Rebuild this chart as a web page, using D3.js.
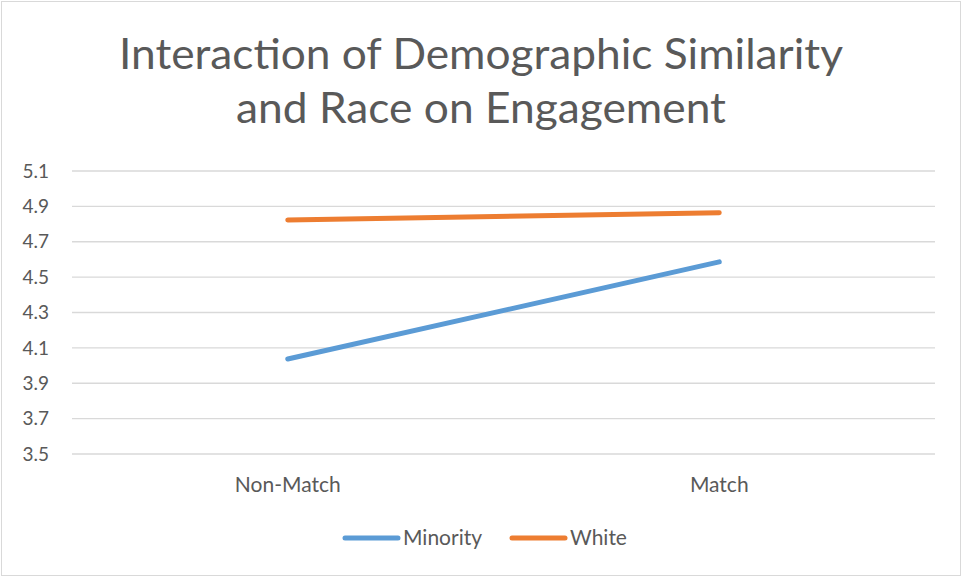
<!DOCTYPE html>
<html><head><meta charset="utf-8">
<script src="https://cdn.jsdelivr.net/npm/d3@7"></script>
<style>body{margin:0;background:#fff}svg{display:block}text{font-family:Lato,"Open Sans",sans-serif;fill:#595959}</style>
</head><body>
<script>
const categories = ["Non-Match", "Match"];
const seriesNames = ["Minority", "White"];
const minority = [4.037, 4.586];
const white = [4.823, 4.864];
const yTicks = [3.5, 3.7, 3.9, 4.1, 4.3, 4.5, 4.7, 4.9, 5.1];
const colors = ["#5B9BD5", "#ED7D31"];
const titleLines = ["Interaction of Demographic Similarity", "and Race on Engagement"];
const titleWidths = [724, 490];

const W = 962, H = 577;
const svg = d3.select("body").append("svg").attr("width", W).attr("height", H);
svg.append("rect").attr("x", 1.5).attr("y", 1.5).attr("width", W - 3).attr("height", H - 3)
  .attr("fill", "#fff").attr("stroke", "#d9d9d9");

const x = d3.scaleBand().domain(categories).range([72, 935]);
const y = d3.scaleLinear().domain([3.5, 5.1]).range([454, 171]);

svg.append("g").selectAll("text").data(titleLines).join("text")
  .attr("x", 481).attr("y", (d, i) => 69 + i * 54).attr("text-anchor", "middle")
  .attr("font-size", 42).attr("textLength", (d, i) => titleWidths[i]).attr("lengthAdjust", "spacingAndGlyphs")
  .text(d => d);

svg.append("g").selectAll("line").data(yTicks).join("line")
  .attr("x1", 72).attr("x2", 935).attr("y1", d => y(d)).attr("y2", d => y(d))
  .attr("stroke", "#d9d9d9").attr("stroke-width", 1.3);

svg.append("g").selectAll("text").data(yTicks).join("text")
  .attr("x", 49).attr("y", d => y(d)).attr("dy", "0.35em").attr("text-anchor", "end")
  .attr("font-size", 19).text(d => d.toFixed(1));

svg.append("g").selectAll("text").data(categories).join("text")
  .attr("x", d => x(d) + x.bandwidth() / 2).attr("y", 492).attr("text-anchor", "middle")
  .attr("font-size", 21).text(d => d);

const line = d3.line().x((d, i) => x(categories[i]) + x.bandwidth() / 2).y(d => y(d));
[minority, white].forEach((s, k) => {
  svg.append("path").attr("d", line(s)).attr("fill", "none").attr("stroke", colors[k])
    .attr("stroke-width", 5).attr("stroke-linecap", "round");
});

const legend = svg.append("g");
const lx = [345, 512];
seriesNames.forEach((n, k) => {
  legend.append("line").attr("x1", lx[k]).attr("x2", lx[k] + 53).attr("y1", 538).attr("y2", 538)
    .attr("stroke", colors[k]).attr("stroke-width", 5).attr("stroke-linecap", "round");
  legend.append("text").attr("x", lx[k] + 58).attr("y", 538).attr("dy", "0.35em")
    .attr("font-size", 21).text(n);
});
</script>
</body></html>
